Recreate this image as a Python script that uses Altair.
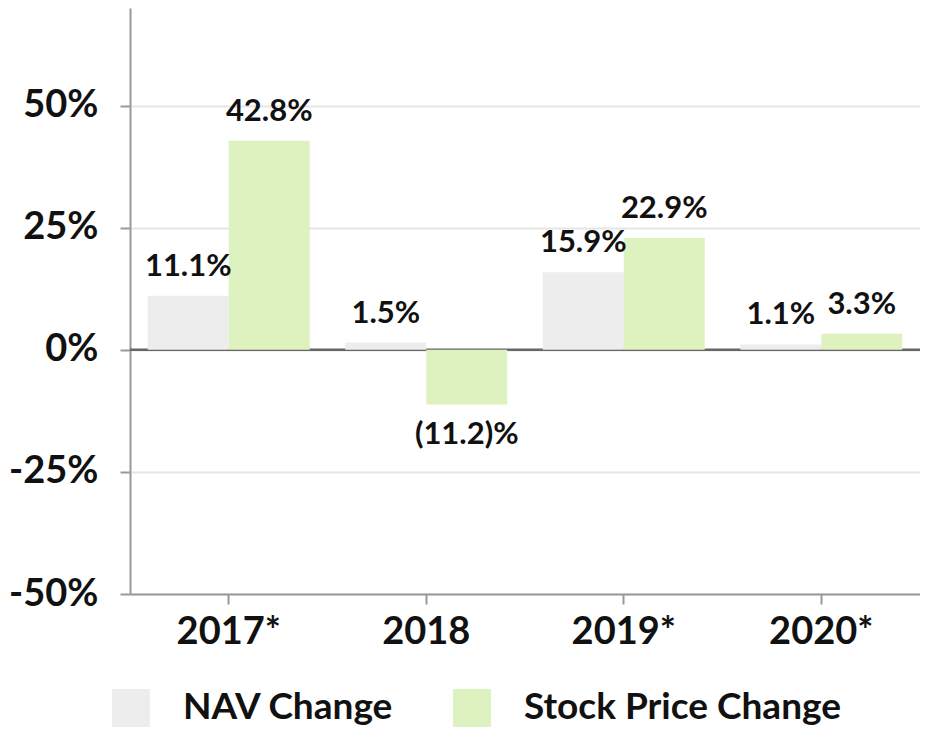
import altair as alt
import pandas as pd

years = ["2017*", "2018", "2019*", "2020*"]
nav_change = [11.1, 1.5, 15.9, 1.1]
stock_change = [42.8, -11.2, 22.9, 3.3]
nav_labels = ["11.1%", "1.5%", "15.9%", "1.1%"]
stock_labels = ["42.8%", "(11.2)%", "22.9%", "3.3%"]
series = ["NAV Change", "Stock Price Change"]
colors = ["#ededed", "#def2c0"]

rows = []
for i, y in enumerate(years):
    rows.append({"year": y, "series": series[0], "value": nav_change[i], "label": nav_labels[i]})
    rows.append({"year": y, "series": series[1], "value": stock_change[i], "label": stock_labels[i]})
df = pd.DataFrame(rows)

x_enc = alt.X("year:N", sort=years, title=None,
              scale=alt.Scale(paddingInner=0.18, paddingOuter=0.09),
              axis=alt.Axis(labelAngle=0, labelFontSize=38, labelFontWeight="bold",
                            labelColor="#111111", labelPadding=9, tickSize=10,
                            tickColor="#999999", tickWidth=2, domainColor="#999999",
                            domainWidth=2, grid=False))
xoff = alt.XOffset("series:N", sort=series, scale=alt.Scale(paddingInner=0, paddingOuter=0))
y_scale = alt.Scale(domain=[-50, 70], nice=False, zero=False)

base = alt.Chart(df)

bars = base.mark_bar().encode(
    x=x_enc,
    xOffset=xoff,
    y=alt.Y("value:Q", scale=y_scale, title=None,
            axis=alt.Axis(values=[-50, -25, 0, 25, 50], labelExpr="datum.value + '%'",
                          labelFontSize=38, labelFontWeight="bold", labelColor="#111111",
                          labelPadding=22, tickSize=10, tickColor="#999999", tickWidth=2,
                          domainColor="#999999", domainWidth=2,
                          grid=True, gridColor="#e6e6e6", gridWidth=2)),
    color=alt.Color("series:N", sort=series,
                    scale=alt.Scale(domain=series, range=colors),
                    legend=alt.Legend(title=None, orient="none", direction="horizontal",
                                      legendX=-18, legendY=681,
                                      symbolType="square", symbolSize=1444,
                                      symbolStrokeWidth=0, labelFontSize=37,
                                      labelFontWeight="bold", labelColor="#111111",
                                      labelOffset=33, columnPadding=59, labelLimit=0,
                                      padding=0)),
)

zero = alt.Chart(pd.DataFrame({"v": [0]})).mark_rule(color="#666666", strokeWidth=2.5).encode(
    y=alt.Y("v:Q", scale=y_scale)
)

pos_text = base.transform_filter("datum.value >= 0").mark_text(
    baseline="middle", dy=-29, fontSize=31, fontWeight="bold", color="#111111"
).encode(x=x_enc, xOffset=xoff, y=alt.Y("value:Q", scale=y_scale), text="label:N")

neg_text = base.transform_filter("datum.value < 0").mark_text(
    baseline="middle", dy=30, fontSize=31, fontWeight="bold", color="#111111"
).encode(x=x_enc, xOffset=xoff, y=alt.Y("value:Q", scale=y_scale), text="label:N")

chart = alt.layer(zero, bars, pos_text, neg_text).properties(
    width=790, height=586,
    autosize=alt.AutoSizeParams(type="none"),
    padding={"left": 122, "top": 0, "right": 0, "bottom": 136},
).configure(font="Lato").configure_view(stroke=None)

chart.save("out.html", embed_options={"renderer": "svg", "actions": False})
